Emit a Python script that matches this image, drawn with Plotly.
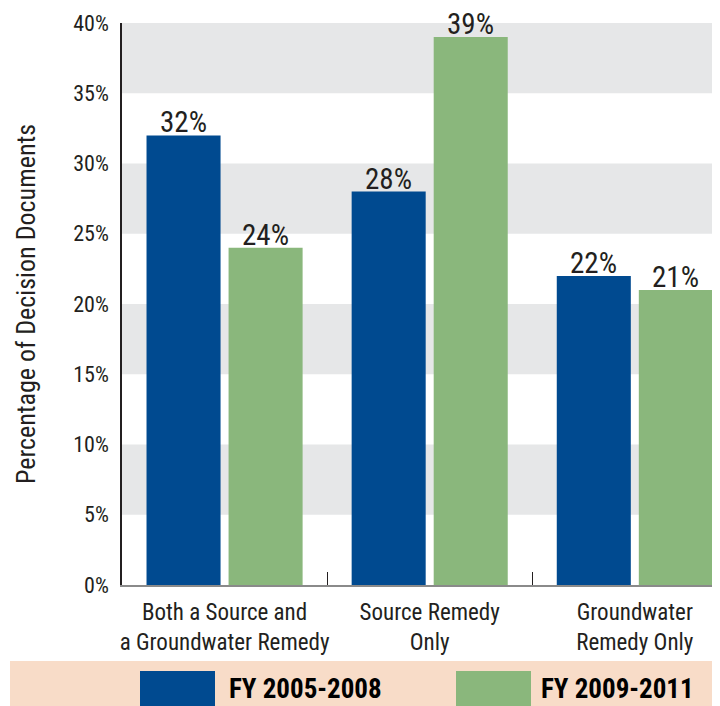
import plotly.graph_objects as go

categories = ["Both a Source and<br>a Groundwater Remedy", "Source Remedy<br>Only", "Groundwater<br>Remedy Only"]
series_names = ["FY 2005-2008", "FY 2009-2011"]
values_2005_2008 = [32, 28, 22]
values_2009_2011 = [24, 39, 21]
y_ticks = [0, 5, 10, 15, 20, 25, 30, 35, 40]
y_tick_labels = [f"{t}%" for t in y_ticks]

BLUE = "#004a90"
GREEN = "#8ab77c"
BAND = "#e6e7e8"
PEACH = "#f8dcc8"
INK = "#231f20"
FONT = "Roboto Condensed, Roboto, Liberation Sans"

# the page body has an 8px margin, so the figure is 8px smaller than the window
OFF = 8
W, H = 720 - OFF, 706 - OFF
L, R, T, B = 122 - OFF, 6, 23 - OFF, 121
PW, PH = W - L - R, H - T - B
X_RANGE = [-0.5, 2.386]
BARGAP = 0.2


def px_x(p):
    return (p - OFF - L) / PW


def px_y(p):
    return (H - B - (p - OFF)) / PH


fig = go.Figure()

# width of one bar slot in px, used to centre the value labels over the bars
slot_px = PW / (X_RANGE[1] - X_RANGE[0]) * (1 - BARGAP) / 2

annotations = []
series = [(series_names[0], values_2005_2008, BLUE, -0.5),
          (series_names[1], values_2009_2011, GREEN, 0.5)]
for name, vals, color, side in series:
    fig.add_bar(
        x=categories,
        y=vals,
        name=name,
        marker=dict(color=color, line=dict(width=0)),
        showlegend=False,
    )
    for cat, v in zip(categories, vals):
        annotations.append(dict(x=cat, y=v, xref="x", yref="y",
                                xshift=side * slot_px, yshift=-6,
                                xanchor="center", yanchor="bottom",
                                showarrow=False, text=f"{v}%",
                                font=dict(family=FONT, size=29, color=INK)))

# alternating gray bands
shapes = []
for lo, hi in zip(y_ticks[1::2], y_ticks[2::2]):
    shapes.append(dict(type="rect", xref="paper", yref="y", x0=0, x1=1,
                       y0=lo, y1=hi, fillcolor=BAND, line=dict(width=0),
                       layer="below"))

# legend strip
shapes.append(dict(type="rect", xref="paper", yref="paper",
                   x0=px_x(10), x1=px_x(714), y0=px_y(706), y1=px_y(661),
                   fillcolor=PEACH, line=dict(width=0), layer="below"))
for (sx0, tx), name, color in zip([(140, 230), (456, 542)], series_names, [BLUE, GREEN]):
    shapes.append(dict(type="rect", xref="paper", yref="paper",
                       x0=px_x(sx0), x1=px_x(sx0 + 75), y0=px_y(706), y1=px_y(671),
                       fillcolor=color, line=dict(width=0)))
    annotations.append(dict(xref="paper", yref="paper", x=px_x(tx - 3), y=px_y(689),
                            xanchor="left", yanchor="middle", showarrow=False,
                            text=f"<b>{name}</b>",
                            font=dict(family=FONT, size=27, color="#000000")))

fig.update_layout(
    width=W, height=H,
    margin=dict(l=L, r=R, t=T, b=B, autoexpand=False),
    paper_bgcolor="white",
    plot_bgcolor="white",
    barmode="group",
    bargap=BARGAP,
    bargroupgap=0.0976,
    shapes=shapes,
    annotations=annotations,
    font=dict(family=FONT, color=INK),
)

fig.update_xaxes(
    range=X_RANGE,
    automargin=False, tickangle=0,
    showline=True, linecolor="#8a8a8a", linewidth=1.5,
    ticks="inside", tickson="boundaries", ticklen=13, tickcolor=INK, tickwidth=1,
    tickfont=dict(family=FONT, size=23, color=INK),
    ticklabelstandoff=6,
    showgrid=False,
)

fig.update_yaxes(
    range=[0, 40],
    automargin=False,
    tickvals=y_ticks, ticktext=y_tick_labels,
    tickfont=dict(family=FONT, size=22, color=INK),
    showline=True, linecolor=INK, linewidth=1.5,
    showgrid=False, zeroline=False,
    ticks="", ticklabelstandoff=7,
    title=dict(text="Percentage of Decision Documents",
               font=dict(family=FONT, size=26, color=INK), standoff=30),
)

fig.write_html("out.html")
